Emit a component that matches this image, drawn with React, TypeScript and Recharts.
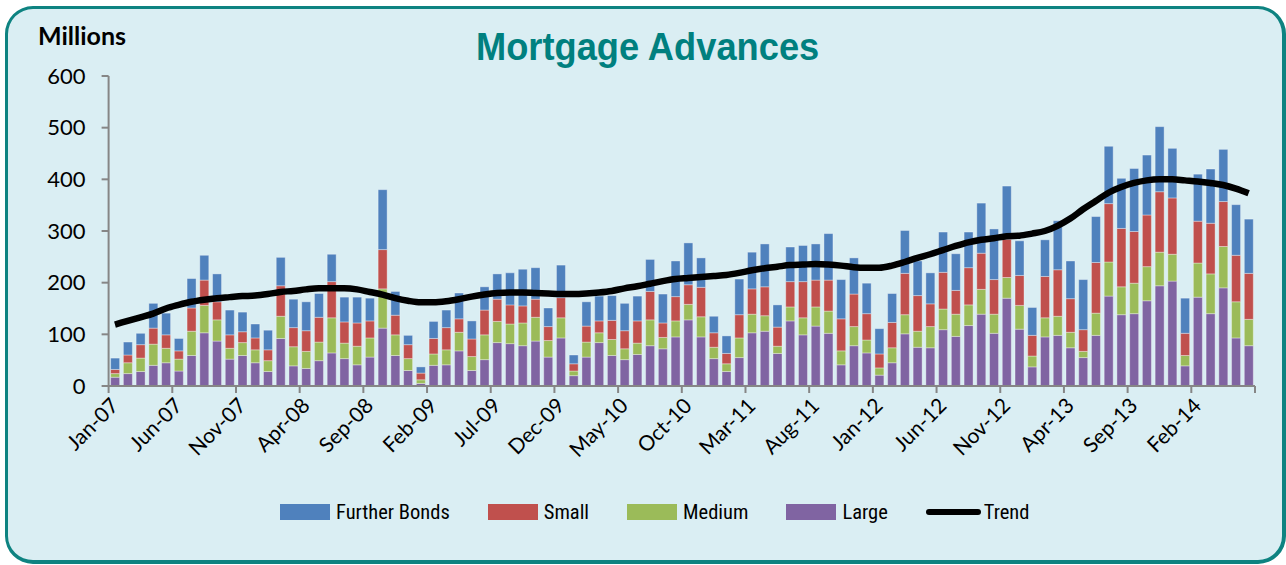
import React from 'react';
import { ComposedChart, Bar, Line, XAxis, YAxis, Legend } from 'recharts';

const categories = [
  'Jan-07','Feb-07','Mar-07','Apr-07','May-07','Jun-07','Jul-07','Aug-07','Sep-07','Oct-07','Nov-07','Dec-07',
  'Jan-08','Feb-08','Mar-08','Apr-08','May-08','Jun-08','Jul-08','Aug-08','Sep-08','Oct-08','Nov-08','Dec-08',
  'Jan-09','Feb-09','Mar-09','Apr-09','May-09','Jun-09','Jul-09','Aug-09','Sep-09','Oct-09','Nov-09','Dec-09',
  'Jan-10','Feb-10','Mar-10','Apr-10','May-10','Jun-10','Jul-10','Aug-10','Sep-10','Oct-10','Nov-10','Dec-10',
  'Jan-11','Feb-11','Mar-11','Apr-11','May-11','Jun-11','Jul-11','Aug-11','Sep-11','Oct-11','Nov-11','Dec-11',
  'Jan-12','Feb-12','Mar-12','Apr-12','May-12','Jun-12','Jul-12','Aug-12','Sep-12','Oct-12','Nov-12','Dec-12',
  'Jan-13','Feb-13','Mar-13','Apr-13','May-13','Jun-13','Jul-13','Aug-13','Sep-13','Oct-13','Nov-13','Dec-13',
  'Jan-14','Feb-14','Mar-14','Apr-14','May-14','Jun-14',
];

const large = [
  17,24,28,40,45,29,59,103,87,52,59,45,
  28,92,39,34,49,64,53,41,56,112,59,30,
  5,40,41,68,30,51,84,82,78,87,56,93,
  20,56,84,59,51,61,78,72,95,128,95,53,
  28,55,103,106,63,126,99,116,102,41,78,64,
  21,45,101,75,74,109,96,117,139,102,170,110,
  37,95,98,74,55,98,174,138,140,165,194,203,
  39,172,140,190,93,78,
];
const medium = [
  7,21,26,41,28,23,47,53,41,21,25,25,
  21,43,37,33,36,68,30,36,37,76,40,23,
  7,22,29,36,27,48,41,38,44,46,32,39,
  9,29,19,31,21,22,50,22,31,30,39,22,
  15,38,36,30,14,27,33,37,43,27,37,25,
  14,29,37,31,41,40,43,40,48,37,40,46,
  21,37,37,30,12,43,66,54,59,66,65,52,
  20,66,77,80,70,51,
];
const small = [
  8,15,26,31,26,16,45,49,35,26,21,23,
  21,59,37,40,48,70,41,45,33,76,38,27,
  13,30,43,26,34,48,43,37,33,35,27,39,
  14,31,23,37,35,43,55,28,47,38,57,28,
  20,45,49,56,37,49,70,52,60,62,63,51,
  27,49,80,69,44,71,46,72,70,67,74,58,
  40,80,90,65,42,98,113,113,100,100,117,109,
  43,81,98,87,90,89,
];
const furtherBonds = [
  22,25,22,48,42,24,57,48,54,48,38,27,
  38,55,55,56,46,53,48,50,44,116,46,18,
  12,33,34,50,35,45,49,62,71,61,36,63,
  17,47,48,48,53,48,62,56,69,81,57,32,
  34,69,71,83,43,67,70,70,90,76,70,59,
  49,56,83,67,60,78,71,69,97,98,103,67,
  54,71,95,73,97,89,111,97,122,116,126,96,
  68,91,105,101,98,105,
];
const trend = [
  119,126,133,140,150,157,163,167,170,172,174,175,
  178,182,184,187,189,189,189,187,182,177,170,165,
  162,162,164,168,173,177,180,181,181,180,179,178,
  178,179,181,184,189,193,198,203,207,209,211,213,
  215,219,224,228,231,234,235,236,235,233,230,229,
  229,233,240,248,255,263,271,278,283,286,290,291,
  295,300,310,324,342,358,374,385,393,398,400,400,
  398,396,393,389,382,373,
];

const yTicks = [0, 100, 200, 300, 400, 500, 600];
const xTickLabels = [
  'Jan-07','Jun-07','Nov-07','Apr-08','Sep-08','Feb-09','Jul-09','Dec-09','May-10','Oct-10',
  'Mar-11','Aug-11','Jan-12','Jun-12','Nov-12','Apr-13','Sep-13','Feb-14',
];
const lastCategory = categories[categories.length - 1];

const data = categories.map((month, i) => ({
  month,
  large: large[i],
  medium: medium[i],
  small: small[i],
  furtherBonds: furtherBonds[i],
  trend: trend[i],
}));

const W = 1286;
const H = 565;
const M = { top: 76, right: 31, left: 48.6, bottom: 30 };
const Y_AXIS_W = 60;
const PLOT_W = W - M.left - Y_AXIS_W - M.right;
const BAND = PLOT_W / categories.length;

const AXIS = '#868686';
const FONT = "Lato, 'Open Sans', sans-serif";

const XTick = (props: any) => {
  const { x, y, payload } = props;
  const half = payload && payload.offset > 0 ? payload.offset : BAND / 2;
  if (payload.value === lastCategory) {
    return (
      <g>
        <line x1={x + half} x2={x + half} y1={y - 8} y2={y - 1} stroke={AXIS} strokeWidth={2} />
      </g>
    );
  }
  return (
    <g>
      <line x1={x - half} x2={x - half} y1={y - 8} y2={y - 1} stroke={AXIS} strokeWidth={2} />
      <text
        x={x + 5}
        y={y + 13}
        transform={`rotate(-45 ${x + 5} ${y + 13})`}
        textAnchor="end"
        fontFamily={FONT}
        fontSize={21}
        fill="#000"
      >
        {payload.value}
      </text>
    </g>
  );
};

const legendItems = [
  { label: 'Further Bonds', color: '#4F81BD', type: 'rect' },
  { label: 'Small', color: '#C0504D', type: 'rect' },
  { label: 'Medium', color: '#9BBB59', type: 'rect' },
  { label: 'Large', color: '#8064A2', type: 'rect' },
  { label: 'Trend', color: '#000000', type: 'line' },
];

const LegendContent = (props: any) => {
  const payload: any[] = props.payload || [];
  const byName: Record<string, any> = {};
  payload.forEach((p) => { byName[p.value] = p; });
  return (
    <div
      style={{
        display: 'flex',
        alignItems: 'center',
        height: 34,
        paddingLeft: 280,
        gap: 38,
        fontFamily: "'Liberation Sans Narrow', 'Arial Narrow', 'Roboto Condensed', Lato, sans-serif",
        fontSize: 20.5,
        color: '#000',
      }}
    >
      {legendItems.map((it) => {
        const p = byName[it.label];
        const color = p && p.color ? p.color : it.color;
        return (
          <div key={it.label} style={{ display: 'flex', alignItems: 'center' }}>
            {it.type === 'rect' ? (
              <div style={{ width: 50, height: 16, background: color, marginRight: 6 }} />
            ) : (
              <div style={{ width: 55, height: 6, background: color, borderRadius: 3, marginRight: 3 }} />
            )}
            <span>{it.label}</span>
          </div>
        );
      })}
    </div>
  );
};

export default function App() {
  return (
    <div style={{ position: 'absolute', left: 0, top: 0, width: W, height: H, background: '#ffffff' }}>
      <div
        style={{
          position: 'absolute',
          left: 5,
          top: 6,
          width: 1281,
          height: 558,
          boxSizing: 'border-box',
          background: '#DAEEF3',
          borderTop: '3px solid #0E8381',
          borderLeft: '3px solid #0E8381',
          borderRight: '4px solid #0E8381',
          borderBottom: '4px solid #0E8381',
          borderRadius: 28,
        }}
      />
      <div
        style={{
          position: 'absolute',
          left: 0,
          width: W,
          top: 25,
          textAlign: 'center',
          paddingLeft: 9,
          boxSizing: 'border-box',
          fontFamily: "'Liberation Sans', Arial, sans-serif",
          fontWeight: 700,
          fontSize: 39,
          color: '#00807F',
          lineHeight: '44px',
        }}
      >
        <span style={{ display: 'inline-block', transform: 'scaleX(0.93)' }}>Mortgage Advances</span>
      </div>
      <div
        style={{
          position: 'absolute',
          left: 38,
          top: 21,
          fontFamily: FONT,
          fontWeight: 700,
          fontSize: 25,
          color: '#000',
          lineHeight: '28px',
        }}
      >
        Millions
      </div>
      <div style={{ position: 'absolute', left: 0, top: 0 }}>
        <ComposedChart width={W} height={H} data={data} margin={M} barCategoryGap="16%">
          <XAxis
            dataKey="month"
            ticks={[...xTickLabels, lastCategory]}
            interval={0}
            tick={<XTick />}
            tickLine={false}
            axisLine={{ stroke: AXIS, strokeWidth: 2 }}
            height={109}
          />
          <YAxis
            domain={[0, 600]}
            ticks={yTicks}
            width={Y_AXIS_W}
            tickSize={7}
            tickMargin={16}
            tickLine={{ stroke: AXIS, strokeWidth: 2 }}
            axisLine={{ stroke: AXIS, strokeWidth: 2 }}
            tick={{ fontFamily: FONT, fontSize: 22, fill: '#000' }}
            allowDataOverflow
          />
          <Legend verticalAlign="bottom" height={40} content={<LegendContent />} wrapperStyle={{ left: 0, width: W }} />
          <Bar dataKey="large" name="Large" stackId="a" fill="#8064A2" stroke="#ffffff" strokeOpacity={0.35} strokeWidth={1} isAnimationActive={false} />
          <Bar dataKey="medium" name="Medium" stackId="a" fill="#9BBB59" stroke="#ffffff" strokeOpacity={0.35} strokeWidth={1} isAnimationActive={false} />
          <Bar dataKey="small" name="Small" stackId="a" fill="#C0504D" stroke="#ffffff" strokeOpacity={0.35} strokeWidth={1} isAnimationActive={false} />
          <Bar dataKey="furtherBonds" name="Further Bonds" stackId="a" fill="#4F81BD" stroke="#ffffff" strokeOpacity={0.35} strokeWidth={1} isAnimationActive={false} />
          <Line dataKey="trend" name="Trend" type="monotone" stroke="#000000" strokeWidth={6.5} dot={false} activeDot={false} isAnimationActive={false} />
        </ComposedChart>
      </div>
    </div>
  );
}
